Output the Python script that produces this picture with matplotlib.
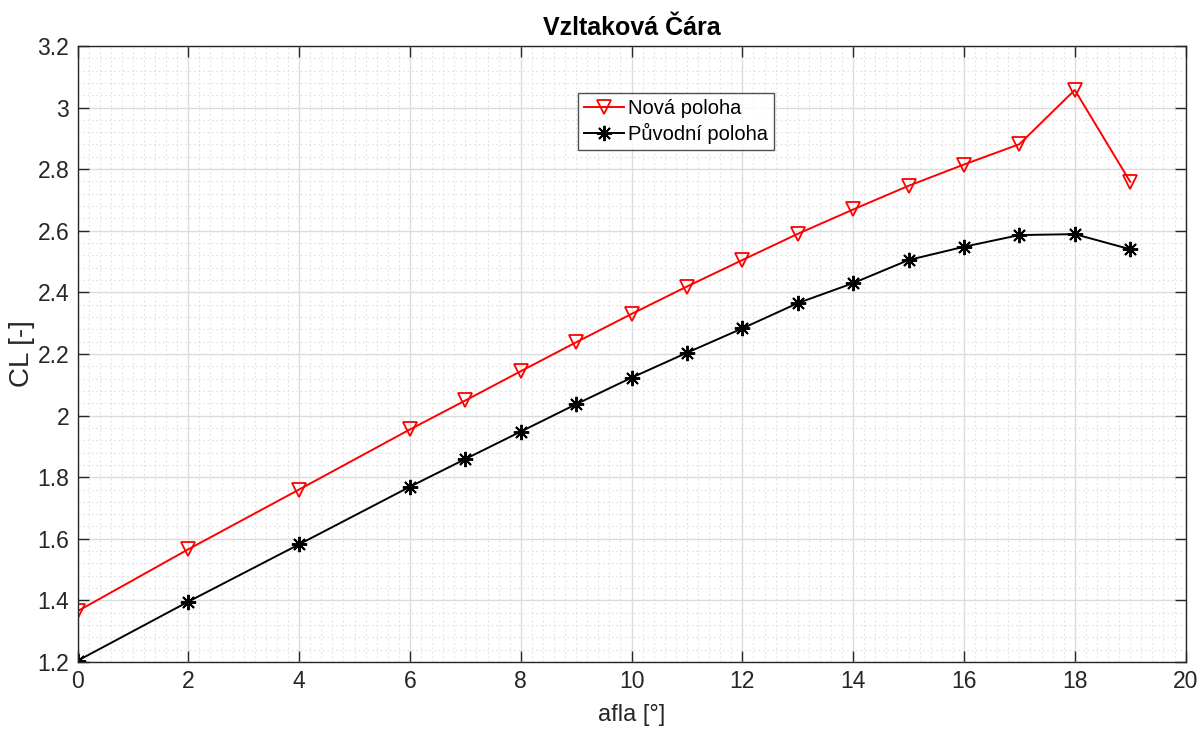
import numpy as np
import matplotlib.pyplot as plt
from matplotlib.ticker import MultipleLocator, FuncFormatter

plt.rcParams['font.family'] = ['Liberation Sans', 'DejaVu Sans']

# uhel nabehu a soucinitel vztlaku
alfa = [0, 2, 4, 6, 7, 8, 9, 10, 11, 12, 13, 14, 15, 16, 17, 18, 19]
cl_nova = [1.365, 1.566, 1.760, 1.955, 2.049, 2.144, 2.238, 2.330, 2.419, 2.505,
           2.590, 2.669, 2.746, 2.815, 2.881, 3.057, 2.759]
cl_puvodni = [1.204, 1.396, 1.582, 1.769, 1.859, 1.948, 2.037, 2.123, 2.204, 2.283,
              2.365, 2.430, 2.505, 2.548, 2.586, 2.589, 2.540]

txt = '#262626'

fig = plt.figure(figsize=(12, 7.29), dpi=100)
ax = fig.add_axes([0.0646, 0.0919, 0.9234, 0.8451])

ax.plot(alfa, cl_nova, color='red', lw=1.4, marker='v', ms=9.5,
        mfc='none', mec='red', mew=1.3, label='Nová poloha')
ax.plot(alfa, cl_puvodni, color='black', lw=1.4, marker=(8, 2, 0), ms=11,
        mec='black', mew=1.4, label='Původní poloha')

ax.set_xlim(0, 20)
ax.set_ylim(1.2, 3.2)
ax.xaxis.set_major_locator(MultipleLocator(2))
ax.yaxis.set_major_locator(MultipleLocator(0.2))
ax.xaxis.set_minor_locator(MultipleLocator(0.2))
ax.yaxis.set_minor_locator(MultipleLocator(0.04))
ax.yaxis.set_major_formatter(FuncFormatter(lambda v, p: '%g' % round(v, 2)))

ax.grid(True, which='major', color='#dcdcdc', lw=1.0, ls='-')
ax.grid(True, which='minor', color='#e0e0e0', lw=0.8, ls=(0, (1.5, 2.5)))
ax.set_axisbelow(True)

ax.tick_params(which='major', direction='in', length=8, width=1.0, color=txt,
               top=True, right=True, labelsize=16.5, labelcolor=txt, pad=6)
ax.tick_params(which='minor', length=0, top=True, right=True)
for s in ax.spines.values():
    s.set_color(txt)
    s.set_linewidth(1.0)

ax.set_title('Vzltaková Čára', fontsize=18, fontweight='bold', color='black', pad=8)
ax.set_xlabel('afla [°]', fontsize=17, color=txt, labelpad=8)
ax.set_ylabel('CL [-]', fontsize=20, color=txt, labelpad=2)

leg = ax.legend(loc='upper left', bbox_to_anchor=(578 / 1200, 1 - 93 / 729),
                bbox_transform=fig.transFigure, fontsize=14.5, frameon=True,
                fancybox=False, edgecolor=txt, borderpad=0.3, labelspacing=0.25,
                handlelength=2.0, handletextpad=0.2, borderaxespad=0)
leg.get_frame().set_linewidth(1.0)
for t in leg.get_texts():
    t.set_color('black')

fig.savefig('out.png', dpi=100, facecolor='white')
